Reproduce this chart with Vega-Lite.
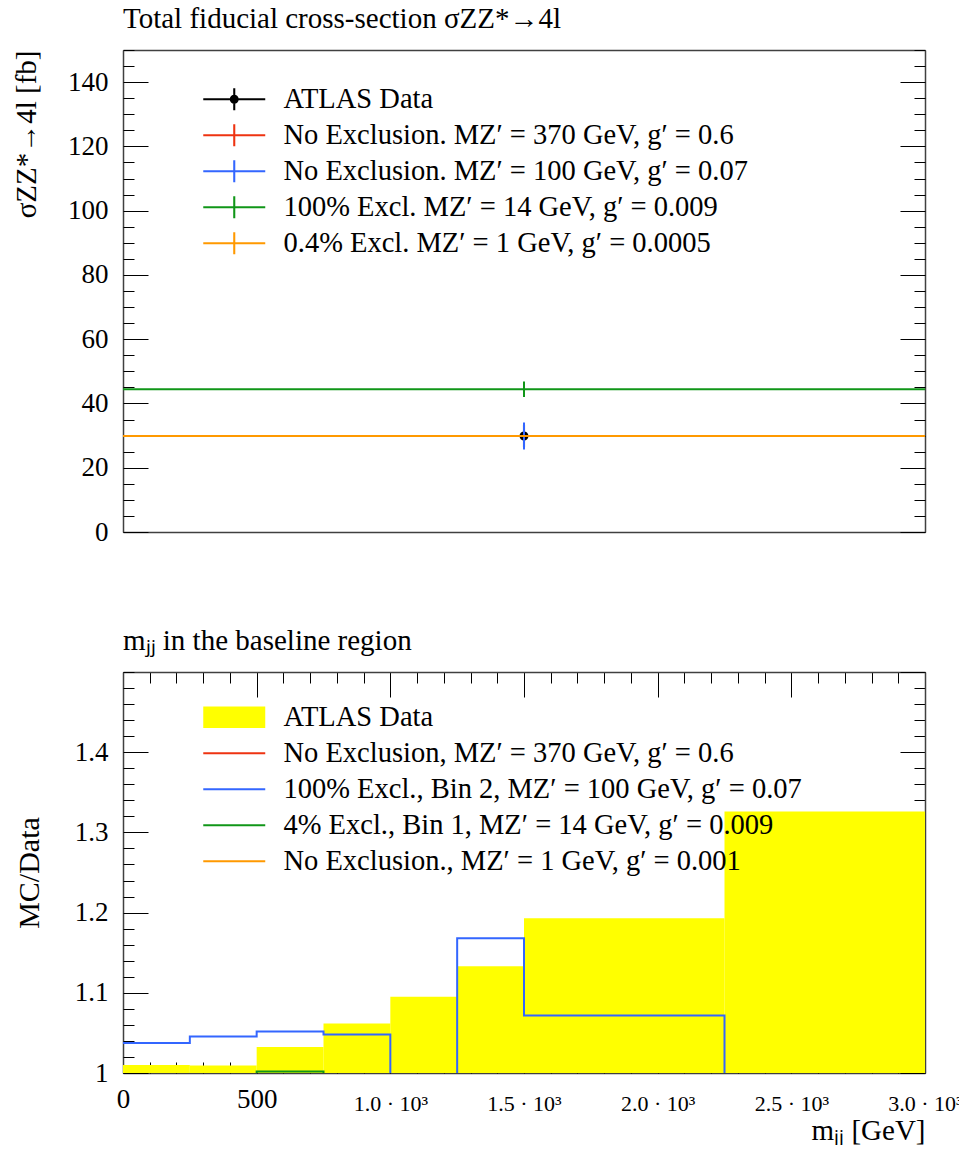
{
  "$schema": "https://vega.github.io/schema/vega-lite/v6.json",
  "padding": {"left": 12, "top": 4, "right": 0, "bottom": 0},
  "bounds": "flush",
  "spacing": 140,
  "resolve": {"scale": {"color": "independent", "shape": "independent"}, "legend": {"color": "independent", "shape": "independent"}},
  "config": {
    "font": "Liberation Serif",
    "view": {"stroke": null},
    "axis": {"grid": false, "domain": false, "tickColor": "black", "tickWidth": 1, "labelColor": "black", "labelFont": "Liberation Serif", "titleFont": "Liberation Serif", "titleFontWeight": "normal", "titleColor": "black", "domainColor": "#404040", "domainWidth": 1.5, "zindex": 1, "labelOverlap": false, "labelFlush": false},
    "legend": {"labelFont": "Liberation Serif", "labelColor": "black"},
    "title": {"font": "Liberation Serif", "fontWeight": "normal", "color": "black", "anchor": "start", "frame": "group", "fontSize": 29}
  },
  "vconcat": [
    {
      "width": 802,
      "height": 482,
      "title": {"text": "Total fiducial cross-section σZZ*→4l", "offset": 16},
      "data": {"values": [
        {"series": "ATLAS Data", "bin_lo": 0, "bin_hi": 1, "bin_center": 0.5, "xsec": 29.9, "xsec_lo": 25.9, "xsec_hi": 33.9},
        {"series": "No Exclusion. MZ′ = 370 GeV, g′ = 0.6", "bin_lo": 0, "bin_hi": 1, "bin_center": 0.5, "xsec": 29.9, "xsec_lo": 25.9, "xsec_hi": 33.9},
        {"series": "No Exclusion. MZ′ = 100 GeV, g′ = 0.07", "bin_lo": 0, "bin_hi": 1, "bin_center": 0.5, "xsec": 29.9, "xsec_lo": 25.7, "xsec_hi": 34.1},
        {"series": "100% Excl. MZ′ = 14 GeV, g′ = 0.009", "bin_lo": 0, "bin_hi": 1, "bin_center": 0.5, "xsec": 44.4, "xsec_lo": 42.0, "xsec_hi": 46.8},
        {"series": "0.4% Excl. MZ′ = 1 GeV, g′ = 0.0005", "bin_lo": 0, "bin_hi": 1, "bin_center": 0.5, "xsec": 29.9, "xsec_lo": 29.85, "xsec_hi": 29.95}
      ]},
      "resolve": {"axis": {"x": "independent", "y": "independent"}},
      "layer": [
        {
          "transform": [{"filter": "datum.series === 'ATLAS Data'"}],
          "mark": {"type": "rule", "color": "black", "strokeWidth": 2},
          "encoding": {
            "x": {"field": "bin_center", "type": "quantitative", "scale": {"domain": [0, 1], "nice": false, "zero": false}, "axis": null},
            "y": {"field": "xsec_lo", "type": "quantitative", "scale": {"domain": [0, 150], "nice": false, "zero": false},
              "axis": {"orient": "left", "values": [0, 20, 40, 60, 80, 100, 120, 140], "tickSize": -25, "labelPadding": 40, "labelFontSize": 27, "title": "σZZ*→4l [fb]", "titleAnchor": "end", "titleFontSize": 29, "titlePadding": 26, "domain": true}},
            "y2": {"field": "xsec_hi"}
          }
        },
        {
          "transform": [{"filter": "datum.series === 'ATLAS Data'"}],
          "mark": {"type": "point", "filled": true, "opacity": 1, "size": 427, "strokeWidth": 0},
          "encoding": {
            "x": {"field": "bin_center", "type": "quantitative", "axis": null},
            "y": {"field": "xsec", "type": "quantitative",
              "axis": {"orient": "left", "values": [0, 5, 10, 15, 20, 25, 30, 35, 40, 45, 50, 55, 60, 65, 70, 75, 80, 85, 90, 95, 100, 105, 110, 115, 120, 125, 130, 135, 140, 145, 150], "tickSize": -11, "labels": false, "title": null}},
            "color": {"field": "series", "type": "nominal",
              "scale": {"domain": ["ATLAS Data", "No Exclusion. MZ′ = 370 GeV, g′ = 0.6", "No Exclusion. MZ′ = 100 GeV, g′ = 0.07", "100% Excl. MZ′ = 14 GeV, g′ = 0.009", "0.4% Excl. MZ′ = 1 GeV, g′ = 0.0005"], "range": ["#000000", "#EE3311", "#3366FF", "#109618", "#FF9900"]},
              "legend": {"orient": "none", "legendX": 97, "legendY": 35, "title": null, "symbolSize": 427, "symbolStrokeWidth": 0, "labelFontSize": 28.5, "labelOffset": 35, "labelLimit": 2000, "rowPadding": 7, "padding": 0, "zindex": 1}},
            "shape": {"field": "series", "type": "nominal",
              "scale": {"domain": ["ATLAS Data", "No Exclusion. MZ′ = 370 GeV, g′ = 0.6", "No Exclusion. MZ′ = 100 GeV, g′ = 0.07", "100% Excl. MZ′ = 14 GeV, g′ = 0.009", "0.4% Excl. MZ′ = 1 GeV, g′ = 0.0005"],
                "range": [
                  "M-3,-0.1H3V0.1H-3ZM-0.1,-1.065H0.1V1.065H-0.1ZM0.435,0A0.435,0.435 0 1,1 -0.435,0A0.435,0.435 0 1,1 0.435,0Z",
                  "M-3,-0.1H3V0.1H-3ZM-0.1,-1.065H0.1V1.065H-0.1Z",
                  "M-3,-0.1H3V0.1H-3ZM-0.1,-1.065H0.1V1.065H-0.1Z",
                  "M-3,-0.1H3V0.1H-3ZM-0.1,-1.065H0.1V1.065H-0.1Z",
                  "M-3,-0.1H3V0.1H-3ZM-0.1,-1.065H0.1V1.065H-0.1Z"]},
              "legend": {"orient": "none", "legendX": 97, "legendY": 35, "title": null, "symbolSize": 427, "symbolStrokeWidth": 0, "labelFontSize": 28.5, "labelOffset": 35, "labelLimit": 2000, "rowPadding": 7, "padding": 0, "zindex": 1}}
          }
        },
        {
          "transform": [{"filter": "datum.series !== 'ATLAS Data'"}],
          "mark": {"type": "rule", "strokeWidth": 2},
          "encoding": {
            "x": {"field": "bin_center", "type": "quantitative",
              "axis": {"orient": "bottom", "ticks": false, "labels": false, "domain": true, "title": null}},
            "y": {"field": "xsec_lo", "type": "quantitative",
              "axis": {"orient": "right", "values": [0, 20, 40, 60, 80, 100, 120, 140], "tickSize": -25, "labels": false, "title": null, "domain": true}},
            "y2": {"field": "xsec_hi"},
            "color": {"field": "series", "type": "nominal", "legend": null}
          }
        },
        {
          "transform": [{"filter": "datum.series !== 'ATLAS Data'"}],
          "mark": {"type": "rule", "strokeWidth": 2},
          "encoding": {
            "x": {"field": "bin_lo", "type": "quantitative",
              "axis": {"orient": "top", "ticks": false, "labels": false, "domain": true, "title": null}},
            "x2": {"field": "bin_hi"},
            "y": {"field": "xsec", "type": "quantitative",
              "axis": {"orient": "right", "values": [0, 5, 10, 15, 20, 25, 30, 35, 40, 45, 50, 55, 60, 65, 70, 75, 80, 85, 90, 95, 100, 105, 110, 115, 120, 125, 130, 135, 140, 145, 150], "tickSize": -11, "labels": false, "title": null}},
            "color": {"field": "series", "type": "nominal", "legend": null}
          }
        }
      ]
    },
    {
      "width": 802,
      "height": 401,
      "title": {"text": "mⱼⱼ in the baseline region", "offset": 16},
      "data": {"values": [
        {"series": "ATLAS Data", "lo": 0, "hi": 250, "ratio": 1.010},
        {"series": "ATLAS Data", "lo": 250, "hi": 500, "ratio": 1.0095},
        {"series": "ATLAS Data", "lo": 500, "hi": 750, "ratio": 1.0325},
        {"series": "ATLAS Data", "lo": 750, "hi": 1000, "ratio": 1.0616},
        {"series": "ATLAS Data", "lo": 1000, "hi": 1250, "ratio": 1.095},
        {"series": "ATLAS Data", "lo": 1250, "hi": 1500, "ratio": 1.133},
        {"series": "ATLAS Data", "lo": 1500, "hi": 2250, "ratio": 1.193},
        {"series": "ATLAS Data", "lo": 2250, "hi": 3000, "ratio": 1.326},
        {"series": "No Exclusion, MZ′ = 370 GeV, g′ = 0.6", "lo": 0, "hi": 250, "ratio": 0.99},
        {"series": "No Exclusion, MZ′ = 370 GeV, g′ = 0.6", "lo": 250, "hi": 500, "ratio": 0.99},
        {"series": "No Exclusion, MZ′ = 370 GeV, g′ = 0.6", "lo": 500, "hi": 750, "ratio": 0.99},
        {"series": "No Exclusion, MZ′ = 370 GeV, g′ = 0.6", "lo": 750, "hi": 1000, "ratio": 0.99},
        {"series": "No Exclusion, MZ′ = 370 GeV, g′ = 0.6", "lo": 1000, "hi": 1250, "ratio": 0.99},
        {"series": "No Exclusion, MZ′ = 370 GeV, g′ = 0.6", "lo": 1250, "hi": 1500, "ratio": 0.99},
        {"series": "No Exclusion, MZ′ = 370 GeV, g′ = 0.6", "lo": 1500, "hi": 2250, "ratio": 0.99},
        {"series": "No Exclusion, MZ′ = 370 GeV, g′ = 0.6", "lo": 2250, "hi": 3000, "ratio": 0.99},
        {"series": "100% Excl., Bin 2, MZ′ = 100 GeV, g′ = 0.07", "lo": 0, "hi": 250, "ratio": 1.0375},
        {"series": "100% Excl., Bin 2, MZ′ = 100 GeV, g′ = 0.07", "lo": 250, "hi": 500, "ratio": 1.0454},
        {"series": "100% Excl., Bin 2, MZ′ = 100 GeV, g′ = 0.07", "lo": 500, "hi": 750, "ratio": 1.0516},
        {"series": "100% Excl., Bin 2, MZ′ = 100 GeV, g′ = 0.07", "lo": 750, "hi": 1000, "ratio": 1.048},
        {"series": "100% Excl., Bin 2, MZ′ = 100 GeV, g′ = 0.07", "lo": 1000, "hi": 1250, "ratio": 0.95},
        {"series": "100% Excl., Bin 2, MZ′ = 100 GeV, g′ = 0.07", "lo": 1250, "hi": 1500, "ratio": 1.168},
        {"series": "100% Excl., Bin 2, MZ′ = 100 GeV, g′ = 0.07", "lo": 1500, "hi": 2250, "ratio": 1.0716},
        {"series": "100% Excl., Bin 2, MZ′ = 100 GeV, g′ = 0.07", "lo": 2250, "hi": 3000, "ratio": 0.95},
        {"series": "4% Excl., Bin 1, MZ′ = 14 GeV, g′ = 0.009", "lo": 0, "hi": 250, "ratio": 0.99},
        {"series": "4% Excl., Bin 1, MZ′ = 14 GeV, g′ = 0.009", "lo": 250, "hi": 500, "ratio": 0.99},
        {"series": "4% Excl., Bin 1, MZ′ = 14 GeV, g′ = 0.009", "lo": 500, "hi": 750, "ratio": 1.002},
        {"series": "4% Excl., Bin 1, MZ′ = 14 GeV, g′ = 0.009", "lo": 750, "hi": 1000, "ratio": 0.99},
        {"series": "4% Excl., Bin 1, MZ′ = 14 GeV, g′ = 0.009", "lo": 1000, "hi": 1250, "ratio": 0.99},
        {"series": "4% Excl., Bin 1, MZ′ = 14 GeV, g′ = 0.009", "lo": 1250, "hi": 1500, "ratio": 0.99},
        {"series": "4% Excl., Bin 1, MZ′ = 14 GeV, g′ = 0.009", "lo": 1500, "hi": 2250, "ratio": 0.99},
        {"series": "4% Excl., Bin 1, MZ′ = 14 GeV, g′ = 0.009", "lo": 2250, "hi": 3000, "ratio": 0.99},
        {"series": "No Exclusion., MZ′ = 1 GeV, g′ = 0.001", "lo": 0, "hi": 250, "ratio": 0.99},
        {"series": "No Exclusion., MZ′ = 1 GeV, g′ = 0.001", "lo": 250, "hi": 500, "ratio": 0.99},
        {"series": "No Exclusion., MZ′ = 1 GeV, g′ = 0.001", "lo": 500, "hi": 750, "ratio": 0.99},
        {"series": "No Exclusion., MZ′ = 1 GeV, g′ = 0.001", "lo": 750, "hi": 1000, "ratio": 0.99},
        {"series": "No Exclusion., MZ′ = 1 GeV, g′ = 0.001", "lo": 1000, "hi": 1250, "ratio": 0.99},
        {"series": "No Exclusion., MZ′ = 1 GeV, g′ = 0.001", "lo": 1250, "hi": 1500, "ratio": 0.99},
        {"series": "No Exclusion., MZ′ = 1 GeV, g′ = 0.001", "lo": 1500, "hi": 2250, "ratio": 0.99},
        {"series": "No Exclusion., MZ′ = 1 GeV, g′ = 0.001", "lo": 2250, "hi": 3000, "ratio": 0.99}
      ]},
      "resolve": {"axis": {"x": "independent", "y": "independent"}},
      "layer": [
        {
          "transform": [{"filter": "datum.series === 'ATLAS Data'"}],
          "mark": {"type": "rect", "color": "#ffff00"},
          "encoding": {
            "x": {"field": "lo", "type": "quantitative", "scale": {"domain": [0, 3000], "nice": false, "zero": false},
              "axis": {"orient": "bottom", "values": [0, 500, 1000, 1500, 2000, 2500, 3000], "tickSize": -25, "labelPadding": 38, "labelLineHeight": 7,
                "labelExpr": "datum.value < 1000 ? datum.label : ['', format(datum.value / 1000, '.1f') + ' · 10³']",
                "labelFontSize": {"condition": {"test": "datum.value >= 1000", "value": 22}, "value": 27},
                "title": "mⱼⱼ [GeV]", "titleAnchor": "end", "titleFontSize": 29, "titlePadding": 2, "domain": true}},
            "x2": {"field": "hi"},
            "y": {"field": "ratio", "type": "quantitative", "scale": {"domain": [1, 1.5], "nice": false, "zero": false},
              "axis": {"orient": "left", "values": [1, 1.1, 1.2, 1.3, 1.4], "tickSize": -25, "labelPadding": 40, "labelFontSize": 27,
                "labelExpr": "datum.value === 1 ? '1' : format(datum.value, '.1f')",
                "title": "MC/Data", "titleFontSize": 30, "titlePadding": 30, "domain": true}},
            "y2": {"datum": 1}
          }
        },
        {
          "transform": [{"filter": "datum.ratio < 1"}],
          "mark": {"type": "point", "filled": true, "opacity": 1, "size": 427, "strokeWidth": 0, "clip": true},
          "encoding": {
            "x": {"field": "lo", "type": "quantitative",
              "axis": {"orient": "top", "values": [0, 100, 200, 300, 400, 500, 600, 700, 800, 900, 1000, 1100, 1200, 1300, 1400, 1500, 1600, 1700, 1800, 1900, 2000, 2100, 2200, 2300, 2400, 2500, 2600, 2700, 2800, 2900, 3000], "tickSize": -11, "labels": false, "title": null}},
            "y": {"field": "ratio", "type": "quantitative",
              "axis": {"orient": "right", "values": [1, 1.02, 1.04, 1.06, 1.08, 1.1, 1.12, 1.14, 1.16, 1.18, 1.2, 1.22, 1.24, 1.26, 1.28, 1.3, 1.32, 1.34, 1.36, 1.38, 1.4, 1.42, 1.44, 1.46, 1.48, 1.5], "tickSize": -11, "labels": false, "title": null}},
            "color": {"field": "series", "type": "nominal",
              "scale": {"domain": ["ATLAS Data", "No Exclusion, MZ′ = 370 GeV, g′ = 0.6", "100% Excl., Bin 2, MZ′ = 100 GeV, g′ = 0.07", "4% Excl., Bin 1, MZ′ = 14 GeV, g′ = 0.009", "No Exclusion., MZ′ = 1 GeV, g′ = 0.001"], "range": ["#ffff00", "#EE3311", "#3366FF", "#109618", "#FF9900"]},
              "legend": {"orient": "none", "legendX": 97, "legendY": 31, "title": null, "symbolSize": 427, "symbolStrokeWidth": 0, "labelFontSize": 28.5, "labelOffset": 35, "labelLimit": 2000, "rowPadding": 7, "padding": 0, "zindex": 1}},
            "shape": {"field": "series", "type": "nominal",
              "scale": {"domain": ["ATLAS Data", "No Exclusion, MZ′ = 370 GeV, g′ = 0.6", "100% Excl., Bin 2, MZ′ = 100 GeV, g′ = 0.07", "4% Excl., Bin 1, MZ′ = 14 GeV, g′ = 0.009", "No Exclusion., MZ′ = 1 GeV, g′ = 0.001"],
                "range": ["M-3,-1.05H3V1.05H-3Z", "M-3,-0.1H3V0.1H-3Z", "M-3,-0.1H3V0.1H-3Z", "M-3,-0.1H3V0.1H-3Z", "M-3,-0.1H3V0.1H-3Z"]},
              "legend": {"orient": "none", "legendX": 97, "legendY": 31, "title": null, "symbolSize": 427, "symbolStrokeWidth": 0, "labelFontSize": 28.5, "labelOffset": 35, "labelLimit": 2000, "rowPadding": 7, "padding": 0, "zindex": 1}}
          }
        },
        {
          "transform": [
            {"filter": "datum.series !== 'ATLAS Data' && datum.series !== '100% Excl., Bin 2, MZ′ = 100 GeV, g′ = 0.07'"},
            {"fold": ["lo", "hi"], "as": ["edge", "mjj"]}
          ],
          "mark": {"type": "line", "strokeWidth": 2, "clip": true},
          "encoding": {
            "x": {"field": "mjj", "type": "quantitative",
              "axis": {"orient": "bottom", "values": [0, 100, 200, 300, 400, 500, 600, 700, 800, 900, 1000, 1100, 1200, 1300, 1400, 1500, 1600, 1700, 1800, 1900, 2000, 2100, 2200, 2300, 2400, 2500, 2600, 2700, 2800, 2900, 3000], "tickSize": -11, "labels": false, "title": null}},
            "y": {"field": "ratio", "type": "quantitative",
              "axis": {"orient": "left", "values": [1, 1.02, 1.04, 1.06, 1.08, 1.1, 1.12, 1.14, 1.16, 1.18, 1.2, 1.22, 1.24, 1.26, 1.28, 1.3, 1.32, 1.34, 1.36, 1.38, 1.4, 1.42, 1.44, 1.46, 1.48, 1.5], "tickSize": -11, "labels": false, "title": null}},
            "color": {"field": "series", "type": "nominal", "legend": null},
            "order": [{"field": "mjj", "type": "quantitative"}, {"field": "edge", "type": "nominal"}]
          }
        },
        {
          "transform": [
            {"filter": "datum.series === '100% Excl., Bin 2, MZ′ = 100 GeV, g′ = 0.07'"},
            {"fold": ["lo", "hi"], "as": ["edge", "mjj"]}
          ],
          "mark": {"type": "line", "strokeWidth": 2, "clip": true},
          "encoding": {
            "x": {"field": "mjj", "type": "quantitative",
              "axis": {"orient": "top", "values": [0, 500, 1000, 1500, 2000, 2500, 3000], "tickSize": -25, "labels": false, "title": null, "domain": true}},
            "y": {"field": "ratio", "type": "quantitative",
              "axis": {"orient": "right", "values": [1, 1.1, 1.2, 1.3, 1.4, 1.5], "tickSize": -25, "labels": false, "title": null, "domain": true}},
            "color": {"field": "series", "type": "nominal", "legend": null},
            "order": [{"field": "mjj", "type": "quantitative"}, {"field": "edge", "type": "nominal"}]
          }
        }
      ]
    }
  ]
}
